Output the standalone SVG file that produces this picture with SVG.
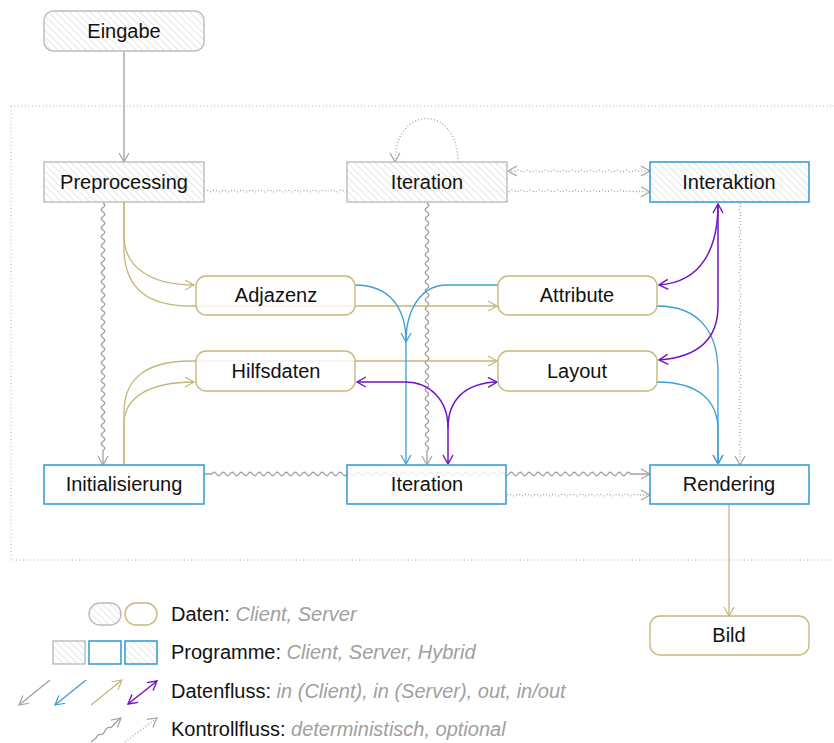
<svg xmlns="http://www.w3.org/2000/svg" width="834" height="743" viewBox="0 0 834 743">
  <defs>
    <pattern id="hatch" patternUnits="userSpaceOnUse" width="5" height="5" patternTransform="rotate(-45)">
      <line x1="0" y1="0" x2="0" y2="5" stroke="#cdcdcd" stroke-width="1"/>
    </pattern>
    <marker id="ah-gray" markerUnits="userSpaceOnUse" viewBox="-11 -7 13 14" markerWidth="13" markerHeight="14" refX="0" refY="0" orient="auto-start-reverse">
      <path d="M-9,-5 L0,0 L-9,5" fill="none" stroke="#a3a3a3" stroke-width="1.2"/>
    </marker>
    <marker id="ah-blue" markerUnits="userSpaceOnUse" viewBox="-11 -7 13 14" markerWidth="13" markerHeight="14" refX="0" refY="0" orient="auto-start-reverse">
      <path d="M-9,-5 L0,0 L-9,5" fill="none" stroke="#3b9ed6" stroke-width="1.2"/>
    </marker>
    <marker id="ah-tan" markerUnits="userSpaceOnUse" viewBox="-11 -7 13 14" markerWidth="13" markerHeight="14" refX="0" refY="0" orient="auto-start-reverse">
      <path d="M-9,-5 L0,0 L-9,5" fill="none" stroke="#c6b67a" stroke-width="1.2"/>
    </marker>
    <marker id="ah-purple" markerUnits="userSpaceOnUse" viewBox="-11 -7 13 14" markerWidth="13" markerHeight="14" refX="0" refY="0" orient="auto-start-reverse">
      <path d="M-9,-5 L0,0 L-9,5" fill="none" stroke="#7014c4" stroke-width="1.4"/>
    </marker>
  </defs>
  <style>
    text { font-family: "Liberation Sans", Arial, sans-serif; font-size: 20px; fill: #111; }
    .lbl { text-anchor: middle; }
    .it { font-style: italic; fill: #a0a0a0; }
    .veil { fill: #fff; fill-opacity: 0.82; }
    .hatch { fill: url(#hatch); }
    .b-gray { fill: none; stroke: #bcbcbc; stroke-width: 1.4; }
    .b-blue { fill: none; stroke: #3b9ed6; stroke-width: 1.6; }
    .b-tan { fill: none; stroke: #c8b87c; stroke-width: 1.4; }
    .c { fill: none; stroke-width: 1.3; }
    .gray { stroke: #a0a0a0; marker-end: url(#ah-gray); }
    .blue { stroke: #3b9ed6; marker-end: url(#ah-blue); }
    .tan { stroke: #c6b67a; marker-end: url(#ah-tan); }
    .purple { stroke: #7014c4; stroke-width: 1.5; marker-end: url(#ah-purple); }
    .both { marker-start: url(#ah-purple); }
    .dots { stroke: #a0a0a0; stroke-dasharray: 1 2.2; marker-end: url(#ah-gray); }
    .dots2 { marker-start: url(#ah-gray); }
  </style>

  <!-- frame of the processing area -->
  <rect x="11" y="106" width="840" height="454" fill="none" stroke="#b0b0b0" stroke-width="1" stroke-dasharray="1 2.5"/>

  <g id="connectors">
    <!-- Eingabe to Preprocessing -->
    <path class="c gray" d="M124,51 V162"/>
    <!-- Preprocessing to Initialisierung (deterministic control) -->
    <path class="c gray" d="M103,203 q3.5,2.25 0,4.5 t0,4.5 t0,4.5 t0,4.5 t0,4.5 t0,4.5 t0,4.5 t0,4.5 t0,4.5 t0,4.5 t0,4.5 t0,4.5 t0,4.5 t0,4.5 t0,4.5 t0,4.5 t0,4.5 t0,4.5 t0,4.5 t0,4.5 t0,4.5 t0,4.5 t0,4.5 t0,4.5 t0,4.5 t0,4.5 t0,4.5 t0,4.5 t0,4.5 t0,4.5 t0,4.5 t0,4.5 t0,4.5 t0,4.5 t0,4.5 t0,4.5 t0,4.5 t0,4.5 t0,4.5 t0,4.5 t0,4.5 t0,4.5 t0,4.5 t0,4.5 t0,4.5 t0,4.5 t0,4.5 t0,4.5 t0,4.5 t0,4.5 t0,4.5 t0,4.5 t0,4.5 t0,4.5 t0,4.5 L103,465"/>
    <!-- Iteration (client) to Iteration (server) -->
    <path class="c gray" d="M427,203 q3.5,2.25 0,4.5 t0,4.5 t0,4.5 t0,4.5 t0,4.5 t0,4.5 t0,4.5 t0,4.5 t0,4.5 t0,4.5 t0,4.5 t0,4.5 t0,4.5 t0,4.5 t0,4.5 t0,4.5 t0,4.5 t0,4.5 t0,4.5 t0,4.5 t0,4.5 t0,4.5 t0,4.5 t0,4.5 t0,4.5 t0,4.5 t0,4.5 t0,4.5 t0,4.5 t0,4.5 t0,4.5 t0,4.5 t0,4.5 t0,4.5 t0,4.5 t0,4.5 t0,4.5 t0,4.5 t0,4.5 t0,4.5 t0,4.5 t0,4.5 t0,4.5 t0,4.5 t0,4.5 t0,4.5 t0,4.5 t0,4.5 t0,4.5 t0,4.5 t0,4.5 t0,4.5 t0,4.5 t0,4.5 t0,4.5 L427,465"/>
    <!-- Initialisierung through Iteration to Rendering -->
    <path class="c gray" d="M204,474 H212 q2.25,-3.5 4.5,0 t4.5,0 t4.5,0 t4.5,0 t4.5,0 t4.5,0 t4.5,0 t4.5,0 t4.5,0 t4.5,0 t4.5,0 t4.5,0 t4.5,0 t4.5,0 t4.5,0 t4.5,0 t4.5,0 t4.5,0 t4.5,0 t4.5,0 t4.5,0 t4.5,0 t4.5,0 t4.5,0 t4.5,0 t4.5,0 t4.5,0 t4.5,0 t4.5,0 t4.5,0 t4.5,0 t4.5,0 t4.5,0 t4.5,0 t4.5,0 t4.5,0 t4.5,0 t4.5,0 t4.5,0 t4.5,0 t4.5,0 t4.5,0 t4.5,0 t4.5,0 t4.5,0 t4.5,0 t4.5,0 t4.5,0 t4.5,0 t4.5,0 t4.5,0 t4.5,0 t4.5,0 t4.5,0 t4.5,0 t4.5,0 t4.5,0 t4.5,0 t4.5,0 t4.5,0 t4.5,0 t4.5,0 t4.5,0 t4.5,0 t4.5,0 t4.5,0 t4.5,0 t4.5,0 t4.5,0 t4.5,0 t4.5,0 t4.5,0 t4.5,0 t4.5,0 t4.5,0 t4.5,0 t4.5,0 t4.5,0 t4.5,0 t4.5,0 t4.5,0 t4.5,0 t4.5,0 t4.5,0 t4.5,0 t4.5,0 t4.5,0 t4.5,0 t4.5,0 t4.5,0 t4.5,0 t4.5,0 t4.5,0 L650,474"/>

    <!-- optional control flow -->
    <path class="c dots" d="M204,191 q2.25,-1.6 4.5,0 t4.5,0 t4.5,0 t4.5,0 t4.5,0 t4.5,0 t4.5,0 t4.5,0 t4.5,0 t4.5,0 t4.5,0 t4.5,0 t4.5,0 t4.5,0 t4.5,0 t4.5,0 t4.5,0 t4.5,0 t4.5,0 t4.5,0 t4.5,0 t4.5,0 t4.5,0 t4.5,0 t4.5,0 t4.5,0 t4.5,0 t4.5,0 t4.5,0 t4.5,0 t4.5,0 t4.5,0 t4.5,0 t4.5,0 t4.5,0 t4.5,0 t4.5,0 t4.5,0 t4.5,0 t4.5,0 t4.5,0 t4.5,0 t4.5,0 t4.5,0 t4.5,0 t4.5,0 t4.5,0 t4.5,0 t4.5,0 t4.5,0 t4.5,0 t4.5,0 t4.5,0 t4.5,0 t4.5,0 t4.5,0 t4.5,0 t4.5,0 t4.5,0 t4.5,0 t4.5,0 t4.5,0 t4.5,0 t4.5,0 t4.5,0 t4.5,0 t4.5,0 t4.5,0 t4.5,0 t4.5,0 t4.5,0 t4.5,0 t4.5,0 t4.5,0 t4.5,0 t4.5,0 t4.5,0 t4.5,0 t4.5,0 t4.5,0 t4.5,0 t4.5,0 t4.5,0 t4.5,0 t4.5,0 t4.5,0 t4.5,0 t4.5,0 t4.5,0 t4.5,0 t4.5,0 t4.5,0 t4.5,0 L650,192"/>
    <path class="c dots dots2" d="M508,171 H516 q2.25,-1.6 4.5,0 t4.5,0 t4.5,0 t4.5,0 t4.5,0 t4.5,0 t4.5,0 t4.5,0 t4.5,0 t4.5,0 t4.5,0 t4.5,0 t4.5,0 t4.5,0 t4.5,0 t4.5,0 t4.5,0 t4.5,0 t4.5,0 t4.5,0 t4.5,0 t4.5,0 t4.5,0 t4.5,0 t4.5,0 t4.5,0 t4.5,0 L650,171"/>
    <path class="c dots" d="M507,495 q2.25,-1.6 4.5,0 t4.5,0 t4.5,0 t4.5,0 t4.5,0 t4.5,0 t4.5,0 t4.5,0 t4.5,0 t4.5,0 t4.5,0 t4.5,0 t4.5,0 t4.5,0 t4.5,0 t4.5,0 t4.5,0 t4.5,0 t4.5,0 t4.5,0 t4.5,0 t4.5,0 t4.5,0 t4.5,0 t4.5,0 t4.5,0 t4.5,0 t4.5,0 t4.5,0 L650,495"/>
    <path class="c dots" d="M740,203 q1.6,2.25 0,4.5 t0,4.5 t0,4.5 t0,4.5 t0,4.5 t0,4.5 t0,4.5 t0,4.5 t0,4.5 t0,4.5 t0,4.5 t0,4.5 t0,4.5 t0,4.5 t0,4.5 t0,4.5 t0,4.5 t0,4.5 t0,4.5 t0,4.5 t0,4.5 t0,4.5 t0,4.5 t0,4.5 t0,4.5 t0,4.5 t0,4.5 t0,4.5 t0,4.5 t0,4.5 t0,4.5 t0,4.5 t0,4.5 t0,4.5 t0,4.5 t0,4.5 t0,4.5 t0,4.5 t0,4.5 t0,4.5 t0,4.5 t0,4.5 t0,4.5 t0,4.5 t0,4.5 t0,4.5 t0,4.5 t0,4.5 t0,4.5 t0,4.5 t0,4.5 t0,4.5 t0,4.5 t0,4.5 t0,4.5 L740,465"/>
    <!-- Iteration loop -->
    <path class="c dots" d="M458,162 C458,104 395,104 395,162"/>

    <!-- out flows (server data) -->
    <path class="c tan" d="M124,202 V236 C124,268 152,285 194,285"/>
    <path class="c tan" d="M124,202 V248 C124,290 150,306 190,306 H497"/>
    <path class="c tan" d="M124,465 V424 C124,397 150,382 194,382"/>
    <path class="c tan" d="M124,465 V412 C124,376 150,361 190,361 H497"/>
    <path class="c tan" d="M729,504 V616"/>

    <!-- in flows (server) -->
    <path class="c blue" d="M355,285 C390,285 406,308 406,342 V464"/>
    <path class="c blue" d="M498,285 H447 C422,285 406,308 406,342"/>
    <path class="c blue" d="M657,306 C700,306 718,333 718,372 V464"/>
    <path class="c blue" d="M657,382 C700,382 718,402 718,430 V464"/>

    <!-- in/out flows -->
    <path class="c purple both" d="M718,204 C718,248 702,282 659,285"/>
    <path class="c purple" d="M718,204 V306 C718,338 700,357 659,360"/>
    <path class="c purple both" d="M357,382 H405 C430,382 448,400 448,428 V464"/>
    <path class="c purple" d="M448,428 C448,400 465,383 497,382"/>
  </g>

  <!-- client data -->
  <g id="eingabe">
    <rect class="veil" x="44" y="11" width="160" height="40" rx="9"/>
    <rect class="hatch" x="44" y="11" width="160" height="40" rx="9"/>
    <rect class="b-gray" x="44" y="11" width="160" height="40" rx="9"/>
    <text class="lbl" x="124" y="38">Eingabe</text>
  </g>

  <!-- client programs -->
  <g id="preprocessing">
    <rect class="veil" x="44" y="162" width="160" height="40"/>
    <rect class="hatch" x="44" y="162" width="160" height="40"/>
    <rect class="b-gray" x="44" y="162" width="160" height="40"/>
    <text class="lbl" x="124" y="189">Preprocessing</text>
  </g>
  <g id="iteration-client">
    <rect class="veil" x="347" y="162" width="160" height="40"/>
    <rect class="hatch" x="347" y="162" width="160" height="40"/>
    <rect class="b-gray" x="347" y="162" width="160" height="40"/>
    <text class="lbl" x="427" y="189">Iteration</text>
  </g>

  <!-- hybrid program -->
  <g id="interaktion">
    <rect class="veil" x="650" y="162" width="159" height="40"/>
    <rect class="hatch" x="650" y="162" width="159" height="40"/>
    <rect class="b-blue" x="650" y="162" width="159" height="40"/>
    <text class="lbl" x="729" y="189">Interaktion</text>
  </g>

  <!-- server data -->
  <g id="adjazenz">
    <rect class="veil" x="196" y="276" width="159" height="39" rx="10"/>
    <rect class="b-tan" x="196" y="276" width="159" height="39" rx="10"/>
    <text class="lbl" x="276" y="302">Adjazenz</text>
  </g>
  <g id="attribute">
    <rect class="veil" x="498" y="276" width="159" height="39" rx="10"/>
    <rect class="b-tan" x="498" y="276" width="159" height="39" rx="10"/>
    <text class="lbl" x="577" y="302">Attribute</text>
  </g>
  <g id="hilfsdaten">
    <rect class="veil" x="196" y="351" width="159" height="40" rx="10"/>
    <rect class="b-tan" x="196" y="351" width="159" height="40" rx="10"/>
    <text class="lbl" x="276" y="378">Hilfsdaten</text>
  </g>
  <g id="layout">
    <rect class="veil" x="498" y="351" width="159" height="40" rx="10"/>
    <rect class="b-tan" x="498" y="351" width="159" height="40" rx="10"/>
    <text class="lbl" x="577" y="378">Layout</text>
  </g>

  <!-- server programs -->
  <g id="initialisierung">
    <rect class="veil" x="44" y="465" width="160" height="39"/>
    <rect class="b-blue" x="44" y="465" width="160" height="39"/>
    <text class="lbl" x="124" y="491">Initialisierung</text>
  </g>
  <g id="iteration-server">
    <rect class="veil" x="347" y="465" width="159" height="39"/>
    <rect class="b-blue" x="347" y="465" width="159" height="39"/>
    <text class="lbl" x="427" y="491">Iteration</text>
  </g>
  <g id="rendering">
    <rect class="veil" x="650" y="465" width="159" height="39"/>
    <rect class="b-blue" x="650" y="465" width="159" height="39"/>
    <text class="lbl" x="729" y="491">Rendering</text>
  </g>

  <g id="bild">
    <rect class="veil" x="650" y="616" width="159" height="39" rx="10"/>
    <rect class="b-tan" x="650" y="616" width="159" height="39" rx="10"/>
    <text class="lbl" x="729" y="642">Bild</text>
  </g>

  <!-- key -->
  <g id="legend">
    <rect class="hatch" x="89" y="603" width="32" height="22" rx="11"/>
    <rect class="b-gray" x="89" y="603" width="32" height="22" rx="11"/>
    <rect class="b-tan" x="125" y="603" width="32" height="22" rx="11"/>
    <text x="171" y="621">Daten: <tspan class="it">Client, Server</tspan></text>

    <rect class="hatch" x="53" y="641" width="32" height="23"/>
    <rect class="b-gray" x="53" y="641" width="32" height="23"/>
    <rect class="b-blue" x="89" y="641" width="32" height="23"/>
    <rect class="hatch" x="125" y="641" width="32" height="23"/>
    <rect class="b-blue" x="125" y="641" width="32" height="23"/>
    <text x="171" y="659">Programme: <tspan class="it">Client, Server, Hybrid</tspan></text>

    <path class="c gray" d="M50,680 L19,705"/>
    <path class="c blue" d="M86,680 L55,705"/>
    <path class="c tan" d="M91,705 L122,680"/>
    <path class="c purple both" d="M128,704 L157,681"/>
    <text x="171" y="698">Datenfluss: <tspan class="it">in (Client), in (Server), out, in/out</tspan></text>

    <path class="c gray" d="M91,742 L96,738 q2,-4 4.5,-3.5 t4.5,-3.5 t4.5,-3.5 t4.5,-3.5 L121,718"/>
    <path class="c dots" d="M125,742 L157,718"/>
    <text x="171" y="736">Kontrollfluss: <tspan class="it">deterministisch, optional</tspan></text>
  </g>
</svg>
